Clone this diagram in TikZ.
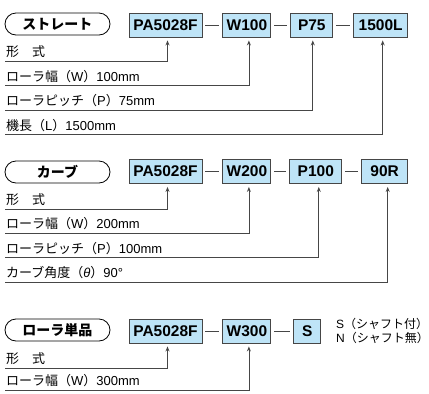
\documentclass[tikz,border=0pt]{standalone}
\usepackage{fontspec}
\setmainfont{Liberation Sans}
\newfontfamily\jp{Noto Sans CJK JP}
\usetikzlibrary{positioning,arrows.meta}
\definecolor{boxblue}{RGB}{190,228,247}
\definecolor{linegray}{RGB}{70,70,70}
\newcommand{\ja}[1]{{\jp #1}}

\tikzset{
  partbox/.style = {draw=linegray, fill=boxblue, line width=0.9pt,
    font=\fontsize{15.5}{15.5}\selectfont\bfseries,
    inner xsep=3pt, inner ysep=0pt, minimum height=24pt, minimum width=#1},
  partbox/.default = 48pt,
  kind/.style = {draw, line width=0.8pt, rounded corners=11pt,
    minimum width=105pt, minimum height=22pt,
    font=\jp\fontsize{14}{14}\selectfont\bfseries},
  note/.style = {anchor=south west, inner xsep=1pt, inner ysep=3pt,
    font=\fontsize{13}{13}\selectfont},
  option/.style = {anchor=west, inner sep=0pt, font=\fontsize{12}{12}\selectfont},
  feed/.style = {draw=linegray, line width=0.8pt,
    -{Stealth[length=5pt,width=4pt]}, shorten >=3pt},
  sep/.style = {draw=linegray, line width=0.8pt, shorten <=3pt, shorten >=3pt}
}

\begin{document}
\begin{tikzpicture}[x=1pt, y=-1pt, node distance=19pt]
  \useasboundingbox (0,0) rectangle (429,394);

  % straight
  \node[kind] (kst) at (57.5,24) {ストレート};
  \node[partbox=73pt] (pa1) at (165.5,25) {PA5028F};
  \node[partbox, right=20pt of pa1] (w1) {W100};
  \node[partbox=42pt, right=19pt of w1] (p1) {P75};
  \node[partbox=54pt, right=20pt of p1] (l1) {1500L};
  \draw[sep] (pa1) -- (w1);
  \draw[sep] (w1) -- (p1);
  \draw[sep] (p1) -- (l1);

  \node[note] (s1f) at (5,61) {\ja{形　式}};
  \node[note] (s1w) at (5,85.5) {\ja{ローラ幅（}W\ja{）}100mm};
  \node[note] (s1p) at (5,110) {\ja{ローラピッチ（}P\ja{）}75mm};
  \node[note] (s1l) at (5,134.5) {\ja{機長（}L\ja{）}1500mm};
  \draw[feed] (s1f.south west) -| ([xshift=2pt]pa1.south);
  \draw[feed] (s1w.south west) -| ([xshift=2pt]w1.south);
  \draw[feed] (s1p.south west) -| ([xshift=1pt]p1.south);
  \draw[feed] (s1l.south west) -| ([xshift=2pt]l1.south);

  % curve
  \node[kind] (kcv) at (57.5,172) {カーブ};
  \node[partbox=73pt] (pa2) at (165.5,171.5) {PA5028F};
  \node[partbox, right=20pt of pa2] (w2) {W200};
  \node[partbox=52pt, right=18pt of w2] (p2) {P100};
  \node[partbox=46pt, right=19pt of p2] (r2) {90R};
  \draw[sep] (pa2) -- (w2);
  \draw[sep] (w2) -- (p2);
  \draw[sep] (p2) -- (r2);

  \node[note] (s2f) at (5,209) {\ja{形　式}};
  \node[note] (s2w) at (5,233) {\ja{ローラ幅（}W\ja{）}200mm};
  \node[note] (s2p) at (5,257.5) {\ja{ローラピッチ（}P\ja{）}100mm};
  \node[note] (s2a) at (5,282) {\ja{カーブ角度（}\textit{θ}\ja{）}90°};
  \draw[feed] (s2f.south west) -| ([xshift=2pt]pa2.south);
  \draw[feed] (s2w.south west) -| ([xshift=2pt]w2.south);
  \draw[feed] (s2p.south west) -| ([xshift=3pt]p2.south);
  \draw[feed] (s2a.south west) -| ([xshift=3pt]r2.south);

  % single roller
  \node[kind] (krl) at (57.5,330) {ローラ単品};
  \node[partbox=73pt] (pa3) at (165.5,331) {PA5028F};
  \node[partbox, right=20pt of pa3] (w3) {W300};
  \node[partbox=27pt, right=22pt of w3] (sh3) {S};
  \draw[sep] (pa3) -- (w3);
  \draw[sep] (w3) -- (sh3);
  \node[option] (sopt) at (336,323.5) {S\ja{（シャフト付）}};
  \node[option] (nopt) at (336,337.5) {N\ja{（シャフト無）}};

  \node[note] (s3f) at (5,368) {\ja{形　式}};
  \node[note] (s3w) at (5,390) {\ja{ローラ幅（}W\ja{）}300mm};
  \draw[feed] (s3f.south west) -| ([xshift=2pt]pa3.south);
  \draw[feed] (s3w.south west) -| ([xshift=2pt]w3.south);
\end{tikzpicture}
\end{document}
